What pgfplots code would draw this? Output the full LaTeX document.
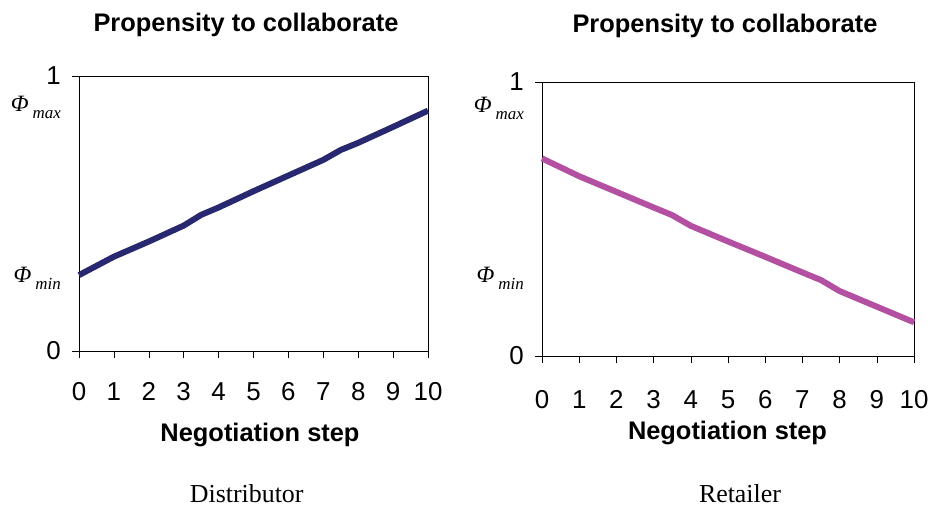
\documentclass[border=0pt]{standalone}
\usepackage{fontspec}
\setmainfont{Liberation Sans}
\newfontfamily\serif{Liberation Serif}
\usepackage{pgfplots}
\pgfplotsset{compat=1.18}
\definecolor{navy}{RGB}{40,40,112}
\definecolor{mag}{RGB}{180,80,162}
\newcommand{\fs}[1]{\fontsize{#1}{#1}\selectfont}
\newcommand{\phisub}[1]{{\serif\itshape\fs{23.5}Φ\,\raisebox{-0.3em}{\fs{17}#1}}}
\pgfplotsset{myax/.style={
  scale only axis, xmin=0, xmax=10, ymin=0, ymax=1,
  xtick={0,...,10}, ytick={0,1},
  tick align=outside, xtick pos=left, ytick pos=left,
  major tick length=7bp,
  tick style={black, line width=0.6bp},
  axis line style={black, line width=0.7bp},
  ticklabel style={font=\fs{26}},
  /pgf/number format/assume math mode=true,
  yticklabel style={inner sep=2bp, xshift=-9bp},
  clip=false,
  extra y tick style={major tick length=0pt, yticklabel style={xshift=-7bp}},
}}
\begin{document}
\begin{tikzpicture}
\useasboundingbox (0,0) rectangle (937bp,507bp);
\begin{axis}[myax, at={(79bp,156bp)}, anchor=south west, width=349bp, height=275bp,
  xticklabel style={inner sep=2bp, yshift=-22bp},
  extra y ticks={0.265,0.885}, extra y tick labels={\phisub{min},\phisub{max}}]
\addplot[navy, line width=6bp, line join=round] coordinates {
(0,0.276) (1,0.343) (2,0.398) (3,0.456) (3.5,0.495) (4,0.522) (5,0.581) (6,0.638) (7,0.695) (7.5,0.731) (8,0.757) (9,0.815) (10,0.874)};
\end{axis}
\begin{axis}[myax, at={(542bp,151bp)}, anchor=south west, width=372bp, height=274bp,
  xticklabel style={inner sep=2bp, yshift=-25bp},
  extra y ticks={0.283,0.905}, extra y tick labels={\phisub{min},\phisub{max}}]
\addplot[mag, line width=6bp, line join=round] coordinates {
(0,0.721) (1,0.656) (2,0.599) (3,0.542) (3.5,0.514) (4,0.475) (5,0.418) (6,0.362) (7,0.305) (7.5,0.277) (8,0.237) (9,0.180) (10,0.123)};
\end{axis}
\node[font=\bfseries\fs{25.5}, anchor=base] at (246bp,475.3bp) {Propensity to collaborate};
\node[font=\bfseries\fs{25.5}, anchor=base] at (725bp,474.7bp) {Propensity to collaborate};
\node[font=\bfseries\fs{25.5}, anchor=base] at (260bp,65.3bp) {Negotiation step};
\node[font=\bfseries\fs{25.5}, anchor=base] at (727.5bp,67bp) {Negotiation step};
\node[font=\serif\fs{26}, anchor=base, inner sep=0pt] at (246.7bp,5bp) {Distributor};
\node[font=\serif\fs{26}, anchor=base, inner sep=0pt] at (740bp,5bp) {Retailer};
\end{tikzpicture}
\end{document}
